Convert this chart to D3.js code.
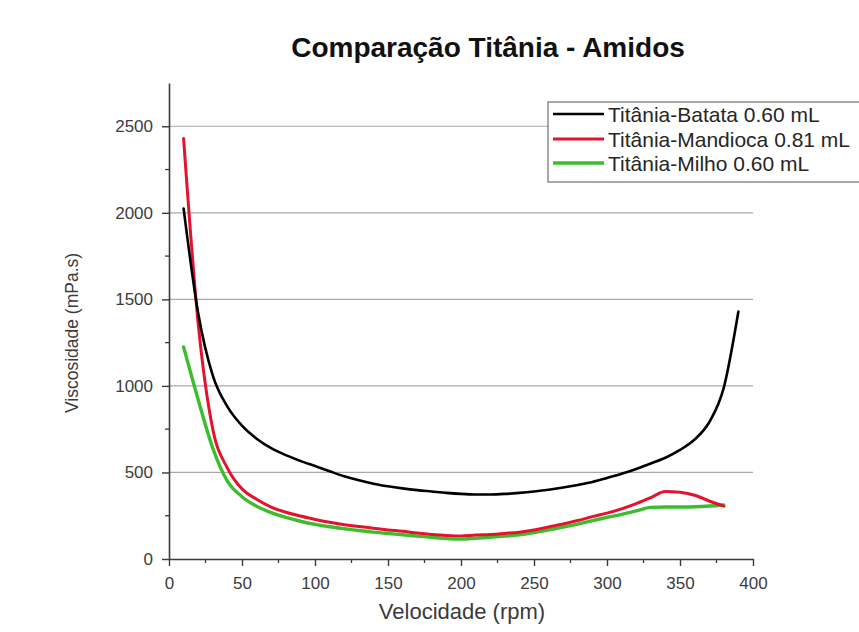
<!DOCTYPE html>
<html>
<head>
<meta charset="utf-8">
<script src="https://cdn.jsdelivr.net/npm/d3@7"></script>
<style>
  html, body { margin: 0; padding: 0; background: #fff; }
  svg { display: block; font-family: "Liberation Sans", Arial, sans-serif; }
</style>
</head>
<body>
<svg id="chart" width="859" height="632"></svg>
<script>
// Rotational speed (rpm) at each reading
const velocidade = [10, 20, 30, 40, 50, 60, 70, 80, 90, 100, 110, 120, 130, 140, 150, 160, 170, 180, 190, 200,
                    210, 220, 230, 240, 250, 260, 270, 280, 290, 300, 310, 320, 330, 340, 350, 360, 370, 380, 390];

// Viscosity (mPa.s) for each titania + starch suspension
const batata = [2025, 1420, 1060, 880, 770, 695, 640, 600, 567, 537, 507, 478, 455, 435, 420, 408, 398, 390, 382, 376,
                373, 373, 376, 382, 390, 400, 413, 428, 445, 468, 492, 520, 552, 585, 630, 690, 790, 990, 1430];
const mandioca = [2430, 1360, 750, 525, 405, 345, 300, 270, 248, 228, 212, 198, 188, 178, 168, 160, 150, 142, 136, 133,
                  138, 142, 148, 155, 168, 185, 202, 222, 245, 265, 290, 320, 355, 390, 385, 368, 335, 305];
const milho = [1225, 920, 640, 450, 360, 305, 268, 240, 218, 200, 186, 175, 165, 155, 147, 140, 132, 125, 118, 115,
               120, 126, 132, 140, 152, 168, 184, 202, 222, 240, 258, 278, 298, 300, 300, 302, 306, 312];

const seriesNames = ["Titânia-Batata 0.60 mL", "Titânia-Mandioca 0.81 mL", "Titânia-Milho 0.60 mL"];
const seriesColors = ["#000000", "#e3132e", "#3cbd2c"];
const seriesWidths = [2.6, 3, 3.4];

const xTicks = [0, 50, 100, 150, 200, 250, 300, 350, 400];
const yTicks = [0, 500, 1000, 1500, 2000, 2500];
const yGrid = [500, 1000, 1500, 2000, 2500];

const titulo = "Comparação Titânia - Amidos";
const xTitulo = "Velocidade (rpm)";
const yTitulo = "Viscosidade (mPa.s)";

const svg = d3.select("#chart");

const x = d3.scaleLinear().domain([0, 400]).range([169, 753]);
const y = d3.scaleLinear().domain([0, 2750]).range([559, 83]);

// Horizontal grid lines
svg.append("g")
  .selectAll("line")
  .data(yGrid)
  .join("line")
  .attr("x1", x(0)).attr("x2", x(400))
  .attr("y1", d => y(d)).attr("y2", d => y(d))
  .attr("stroke", "#a8a8a8")
  .attr("stroke-width", 1.2);

// Minor ticks
const axisColor = "#3a3a3a";
const xMinor = d3.range(25, 400, 50);
const yMinor = d3.range(250, 2750, 500);

svg.append("g").selectAll("line").data(xMinor).join("line")
  .attr("x1", d => x(d)).attr("x2", d => x(d))
  .attr("y1", y(0)).attr("y2", y(0) + 4)
  .attr("stroke", axisColor).attr("stroke-width", 1.3);

svg.append("g").selectAll("line").data(yMinor).join("line")
  .attr("x1", x(0) - 4).attr("x2", x(0))
  .attr("y1", d => y(d)).attr("y2", d => y(d))
  .attr("stroke", axisColor).attr("stroke-width", 1.3);

// Axes
const xAxis = svg.append("g")
  .attr("transform", `translate(0,${y(0)})`)
  .call(d3.axisBottom(x).tickValues(xTicks).tickFormat(d3.format("d"))
    .tickSize(7).tickPadding(11).tickSizeOuter(0));
const yAxis = svg.append("g")
  .attr("transform", `translate(${x(0)},0)`)
  .call(d3.axisLeft(y).tickValues(yTicks).tickFormat(d3.format("d"))
    .tickSize(7).tickPadding(9).tickSizeOuter(0));

[xAxis, yAxis].forEach(g => {
  g.select(".domain").attr("stroke", axisColor).attr("stroke-width", 1.6);
  g.selectAll(".tick line").attr("stroke", axisColor).attr("stroke-width", 1.4);
  g.selectAll(".tick text")
    .attr("fill", "#3c3c3c")
    .style("font-family", "'Liberation Sans', Arial, sans-serif")
    .style("font-size", "17px");
});

// Data lines
const allSeries = [batata, mandioca, milho];
const line = d3.line()
  .x(d => x(d[0]))
  .y(d => y(d[1]))
  .curve(d3.curveMonotoneX);

svg.append("g")
  .selectAll("path")
  .data(allSeries.map((vals, i) => ({ i, pts: vals.map((v, k) => [velocidade[k], v]) })).reverse())
  .join("path")
  .attr("d", d => line(d.pts))
  .attr("fill", "none")
  .attr("stroke", d => seriesColors[d.i])
  .attr("stroke-width", d => seriesWidths[d.i])
  .attr("stroke-linejoin", "round")
  .attr("stroke-linecap", "round");

// Title
svg.append("text")
  .attr("x", 488).attr("y", 57)
  .attr("text-anchor", "middle")
  .attr("fill", "#111")
  .style("font-size", "28px")
  .style("font-weight", "bold")
  .text(titulo);

// Axis titles
svg.append("text")
  .attr("x", 462).attr("y", 619)
  .attr("text-anchor", "middle")
  .attr("fill", "#3a3a3a")
  .style("font-size", "22px")
  .text(xTitulo);

svg.append("text")
  .attr("transform", "translate(78,333) rotate(-90)")
  .attr("text-anchor", "middle")
  .attr("fill", "#3a3a3a")
  .style("font-size", "17.5px")
  .text(yTitulo);

// Legend
const legend = svg.append("g");
legend.append("rect")
  .attr("x", 548).attr("y", 102)
  .attr("width", 330).attr("height", 80)
  .attr("fill", "#fff")
  .attr("stroke", "#555")
  .attr("stroke-width", 1);

const rowY = [114, 139, 163];
seriesNames.forEach((name, i) => {
  legend.append("line")
    .attr("x1", 553).attr("x2", 604)
    .attr("y1", rowY[i]).attr("y2", rowY[i])
    .attr("stroke", seriesColors[i])
    .attr("stroke-width", seriesWidths[i]);
  legend.append("text")
    .attr("x", 608).attr("y", rowY[i] + 7.5)
    .attr("fill", "#262626")
    .style("font-size", "21px")
    .text(name);
});
</script>
</body>
</html>
